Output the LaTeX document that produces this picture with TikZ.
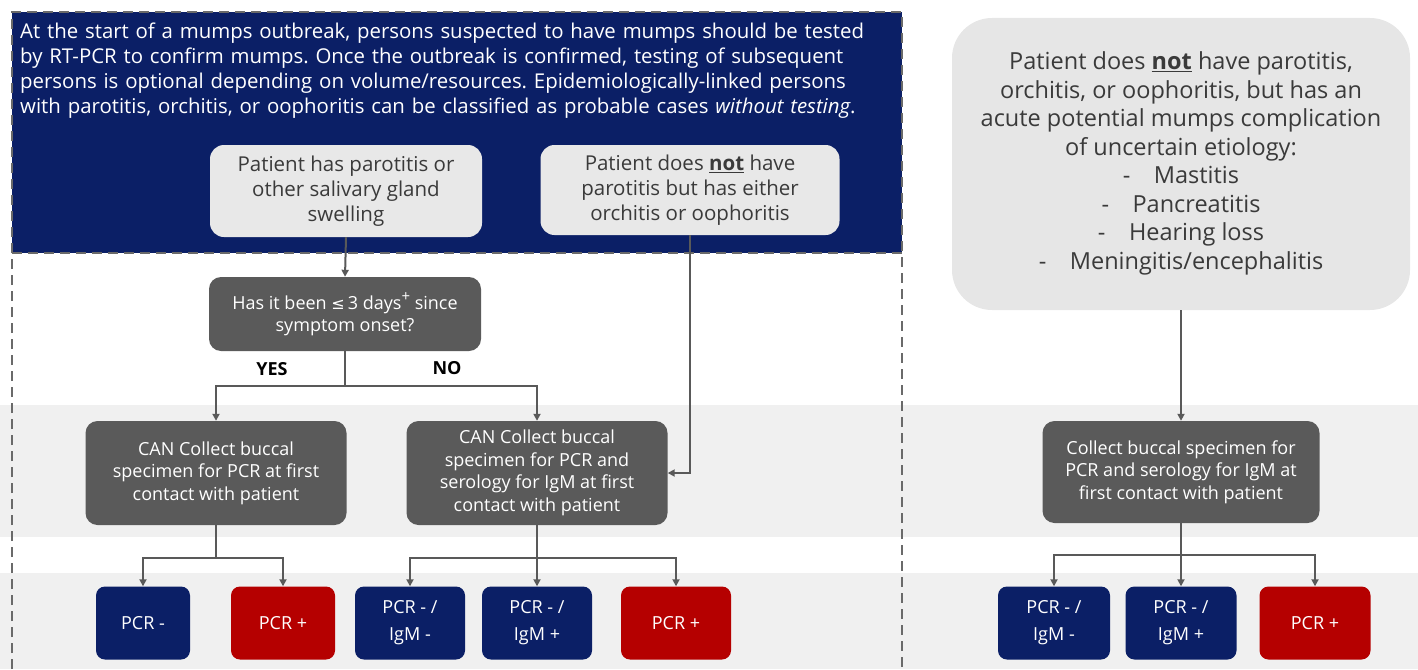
\documentclass[tikz,border=0pt]{standalone}
\usepackage{fontspec}
\setmainfont{Open Sans}
\newfontfamily\dejavu{DejaVu Sans}
\usetikzlibrary{arrows.meta}
\frenchspacing
\definecolor{navy}{HTML}{0B1F66}
\definecolor{redb}{HTML}{B50000}
\definecolor{darkbox}{HTML}{5A5A5A}
\definecolor{lightbox}{HTML}{E8E8E8}
\definecolor{bigbox}{HTML}{E6E6E6}
\definecolor{band}{HTML}{F0F0F0}
\definecolor{txtgray}{HTML}{3A3A3A}
\definecolor{dashgray}{HTML}{6A6A6A}
\definecolor{conn}{HTML}{595959}
\tikzset{
  lightnode/.style={fill=lightbox, rounded corners=14pt, text=txtgray, align=center, inner sep=0pt,
    font=\fontsize{20.5}{25}\selectfont},
  darknode/.style={fill=darkbox, rounded corners=12pt, text=white, align=center, inner sep=0pt,
    font=\fontsize{18}{22.5}\selectfont},
  resnode/.style={rounded corners=9pt, text=white, align=center, inner sep=0pt, minimum height=73pt,
    font=\fontsize{18}{27}\selectfont},
  neg/.style={resnode, fill=navy},
  posr/.style={resnode, fill=redb},
  conline/.style={draw=conn, line width=2pt},
  arr/.style={conline, -{Triangle[length=7pt,width=7pt]}},
  dashbord/.style={draw=dashgray, line width=2.5pt, dash pattern=on 10pt off 6pt},
  yn/.style={font=\fontsize{18}{22}\selectfont\bfseries, text=black}
}
\newcommand{\supplus}{\raisebox{0.45em}{\fontsize{15}{15}\selectfont +}}
\begin{document}
\begin{tikzpicture}[x=1pt,y=-1pt]
\useasboundingbox (0,0) rectangle (1418,669);
% background bands
\fill[band] (0,405) rectangle (1418,537);
\fill[band] (0,573) rectangle (1418,669);
% banner
\fill[navy] (12,12) rectangle (902,253);
\draw[dashbord] (12,669) -- (12,12) -- (902,12) -- (902,669);
\draw[dashbord] (12,253) -- (902,253);
\node[anchor=north west, text=white, align=left, text width=880pt, inner sep=0pt,
  font=\fontsize{20.4}{25}\selectfont] (bantext) at (20,23)
  {At the start of a mumps outbreak, persons suspected to have mumps should be tested\\
   by RT-PCR to confirm mumps. Once the outbreak is confirmed, testing of subsequent\\
   persons is optional depending on volume/resources. Epidemiologically-linked persons\\
   with parotitis, orchitis, or oophoritis can be classified as probable cases \textit{without testing}.};
% left flow
\node[lightnode, minimum width=272pt, minimum height=92pt] (parot) at (346,191)
  {Patient has parotitis or\\other salivary gland\\swelling};
\node[lightnode, minimum width=299pt, minimum height=90pt] (orch) at (690,190)
  {Patient does \underline{\textbf{not}} have\\parotitis but has either\\orchitis or oophoritis};
\node[darknode, minimum width=272pt, minimum height=74pt] (dec) at (345,314)
  {Has it been {\dejavu\fontsize{16}{23}\selectfont ≤}\,3 days\supplus\ since\\symptom onset?};
\node[darknode, minimum width=261pt, minimum height=104pt] (can1) at (216,473)
  {CAN Collect buccal\\specimen for PCR at first\\contact with patient};
\node[darknode, minimum width=261pt, minimum height=104pt] (can2) at (537,473)
  {CAN Collect buccal\\specimen for PCR and\\serology for IgM at first\\contact with patient};
\node[yn] (yes) at (272,369) {YES};
\node[yn] (no) at (447,368) {NO};
\node[neg, minimum width=94pt] (pa) at (143,623) {PCR -};
\node[posr, minimum width=104pt] (pb) at (283,623) {PCR +};
\node[neg, minimum width=110pt] (pc) at (410,623) {PCR - /\\IgM -};
\node[neg, minimum width=110pt] (pd) at (537,623) {PCR - /\\IgM +};
\node[posr, minimum width=110pt] (pe) at (676,623) {PCR +};
\coordinate (dj) at (345,386);
\path (can1.south) ++(0,33) coordinate (j1);
\path (can2.south) ++(0,33) coordinate (j2);
\draw[arr] (parot.south) -- (dec.north);
\draw[conline] (dec.south) -- (dj);
\draw[arr] (dj) -| (can1.north);
\draw[arr] (dj) -| (can2.north);
\draw[arr] (orch.south) |- (can2.east);
\draw[conline] (can1.south) -- (j1);
\draw[arr] (j1) -| (pa.north);
\draw[arr] (j1) -| (pb.north);
\draw[conline] (can2.south) -- (j2);
\draw[arr] (j2) -| (pc.north);
\draw[arr] (j2) -- (pd.north);
\draw[arr] (j2) -| (pe.north);
% right flow
\node[fill=bigbox, rounded corners=40pt, text=txtgray, align=center, inner sep=0pt,
  minimum width=458pt, minimum height=292pt, font=\fontsize{23.5}{28.5}\selectfont] (big) at (1181,164)
  {\raisebox{-4pt}{\begin{tabular}{@{}c@{}}Patient does \underline{\textbf{not}} have parotitis,\\orchitis, or oophoritis, but has an\\acute potential mumps complication\\of uncertain etiology:\\
   -\quad Mastitis\\ -\quad Pancreatitis\\ -\quad Hearing loss\\ -\quad Meningitis/encephalitis\end{tabular}}};
\node[darknode, minimum width=277pt, minimum height=102pt] (coll) at (1181,472)
  {Collect buccal specimen for\\PCR and serology for IgM at\\first contact with patient};
\node[neg, minimum width=112pt] (pf) at (1054,623) {PCR - /\\IgM -};
\node[neg, minimum width=111pt] (pg) at (1181,623) {PCR - /\\IgM +};
\node[posr, minimum width=111pt] (ph) at (1315,623) {PCR +};
\path (coll.south) ++(0,32) coordinate (j3);
\draw[arr] (big.south) -- (coll.north);
\draw[conline] (coll.south) -- (j3);
\draw[arr] (j3) -| (pf.north);
\draw[arr] (j3) -- (pg.north);
\draw[arr] (j3) -| (ph.north);
\end{tikzpicture}
\end{document}
